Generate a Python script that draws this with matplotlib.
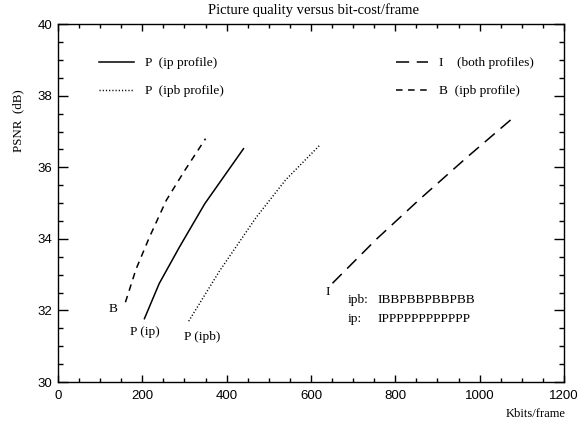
import numpy as np
import matplotlib
matplotlib.use("Agg")
import matplotlib.pyplot as plt
from matplotlib.ticker import MultipleLocator
from matplotlib.lines import Line2D

# Duomenys (nuskaityta nuo paveikslo)
p_ip_kbits = [205, 240, 288, 348, 440]
p_ip_psnr = [31.77, 32.75, 33.77, 34.98, 36.52]

p_ipb_kbits = [310, 383, 470, 540, 621]
p_ipb_psnr = [31.70, 33.10, 34.60, 35.65, 36.62]

b_kbits = [160, 185, 217, 257, 300, 350]
b_psnr = [32.23, 33.15, 34.05, 35.08, 35.90, 36.80]

i_kbits = [651, 756, 859, 970, 1084]
i_psnr = [32.76, 34.00, 35.12, 36.28, 37.43]

serif = "Liberation Serif"
sans = "Liberation Sans"

fig = plt.figure(figsize=(5.88, 4.24), dpi=100)
ax = fig.add_axes([0.0986, 0.099, 0.8605, 0.844])

ls_long = (0, (8.6, 5.0))
ls_short = (0, (4.3, 3.6))
ls_dot = (0, (0.8, 1.4))

ax.plot(p_ip_kbits, p_ip_psnr, color="black", lw=1.1, ls="-")
ax.plot(p_ipb_kbits, p_ipb_psnr, color="black", lw=1.05, ls=ls_dot)
ax.plot(b_kbits, b_psnr, color="black", lw=1.1, ls=ls_short)
ax.plot(i_kbits, i_psnr, color="black", lw=1.1, ls=ls_long)

ax.set_xlim(0, 1200)
ax.set_ylim(30, 40)
ax.xaxis.set_major_locator(MultipleLocator(200))
ax.xaxis.set_minor_locator(MultipleLocator(50))
ax.yaxis.set_major_locator(MultipleLocator(2))
ax.yaxis.set_minor_locator(MultipleLocator(0.5))
ax.tick_params(axis="x", which="major", direction="in", length=5, width=1,
               top=True, labelsize=9.5, pad=6)
ax.tick_params(axis="x", which="minor", direction="in", length=2.8, width=1, top=True)
ax.tick_params(axis="y", which="major", direction="in", length=7, width=1,
               right=True, labelsize=9.5, pad=4)
ax.tick_params(axis="y", which="minor", direction="in", length=3.5, width=1, right=True)
for lab in ax.get_xticklabels() + ax.get_yticklabels():
    lab.set_fontfamily(sans)
for sp in ax.spines.values():
    sp.set_linewidth(1.0)

# Legendos
fs = 9.6
h_left = [Line2D([], [], color="black", lw=1.1, ls="-"),
          Line2D([], [], color="black", lw=1.05, ls=ls_dot)]
leg1 = ax.legend(h_left, ["P  (ip profile)", "P  (ipb profile)"],
                 loc="upper left", bbox_to_anchor=(0.082, 0.908), frameon=False,
                 handlelength=2.6, handletextpad=0.85, labelspacing=1.17,
                 borderpad=0, borderaxespad=0, prop={"family": serif, "size": fs})
ax.add_artist(leg1)
h_right = [Line2D([], [], color="black", lw=1.1, ls=ls_long),
           Line2D([], [], color="black", lw=1.1, ls=ls_short)]
ax.legend(h_right, ["I    (both profiles)", "B  (ipb profile)"],
          loc="upper left", bbox_to_anchor=(0.668, 0.908), frameon=False,
          handlelength=2.4, handletextpad=0.85, labelspacing=1.17,
          borderpad=0, borderaxespad=0, prop={"family": serif, "size": fs})

# Anotacijos
tk = dict(family=serif, size=fs, ha="center", va="center")
ax.text(131, 32.03, "B", **tk)
ax.text(206, 31.41, "P (ip)", **tk)
ax.text(343, 31.27, "P (ipb)", **tk)
ax.text(639, 32.51, "I", **tk)
tl = dict(family=serif, size=fs, ha="left", va="center")
ax.text(686, 32.28, "ipb:", **tl)
ax.text(757, 32.28, "IBBPBBPBBPBB", **tl)
ax.text(686, 31.75, "ip:", **tl)
ax.text(757, 31.75, "IPPPPPPPPPPPP", **tl)

fig.text(0.533, 1 - 10.5 / 424, "Picture quality versus bit-cost/frame",
         family=serif, size=10.5, ha="center", va="center")
fig.text(536 / 588, 1 - 414 / 424, "Kbits/frame",
         family=serif, size=9, ha="center", va="center")
fig.text(18 / 588, 1 - 121 / 424, "PSNR  (dB)", rotation=90,
         family=serif, size=9.3, ha="center", va="center")

fig.savefig("out.png", dpi=100)
